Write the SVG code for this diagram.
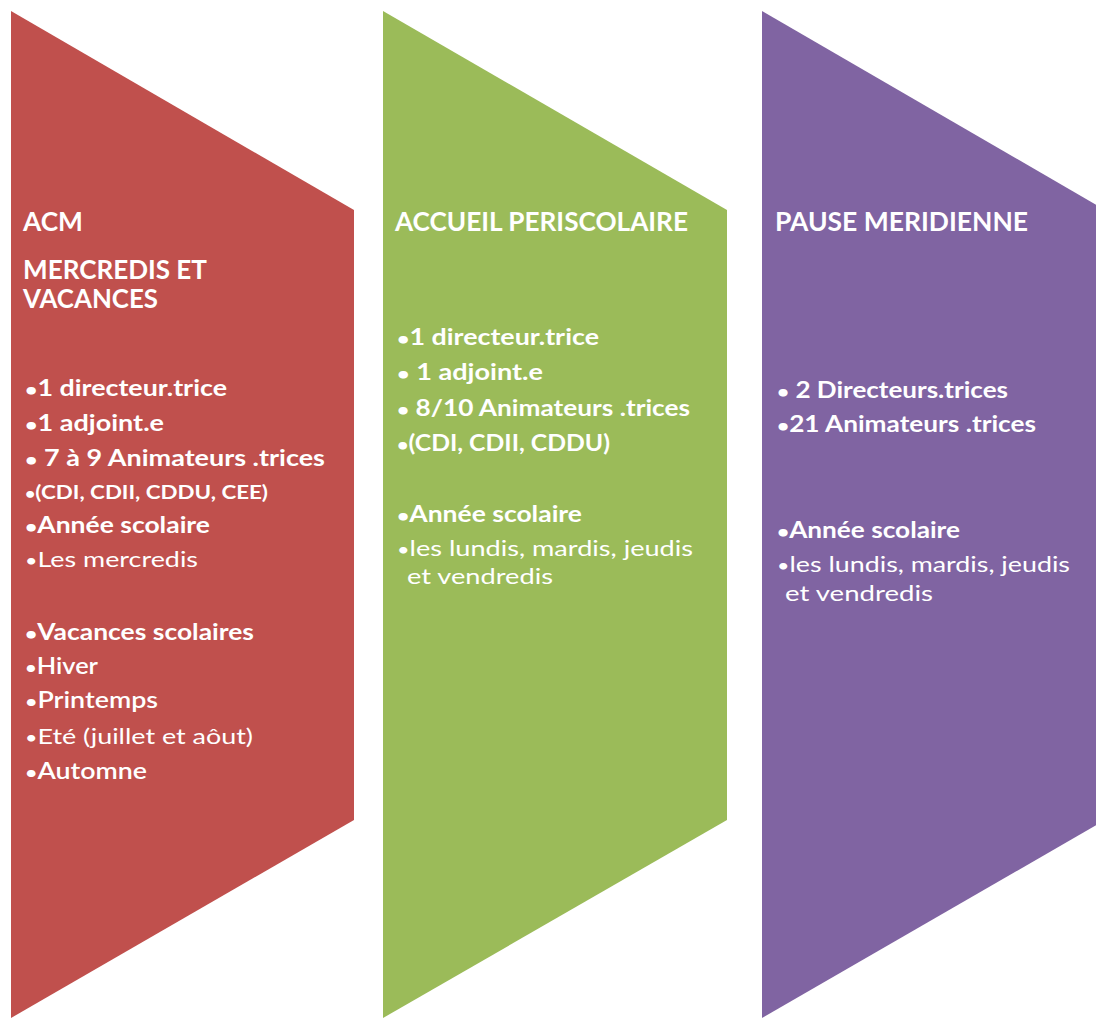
<svg xmlns="http://www.w3.org/2000/svg" width="1096" height="1018" viewBox="0 0 1096 1018">
<style>
text{font-family:Lato,"Open Sans","Liberation Sans",sans-serif;fill:#ffffff}
.h{font-size:26px;font-weight:bold}
.b{font-size:22px;font-weight:bold}
.r{font-size:22px;font-weight:normal}
.s{font-size:19px;font-weight:bold}
.m{font-size:22px;font-weight:600}
.d{font-size:0.8em}
</style>
<rect width="1096" height="1018" fill="#ffffff"/>
<g id="acm">
<polygon points="11,11 354,210 354,820 11,1018" fill="#C0504D"/>
<text class="h" x="23" y="231" textLength="60" lengthAdjust="spacingAndGlyphs">ACM</text>
<text class="h" x="23" y="279" textLength="184" lengthAdjust="spacingAndGlyphs">MERCREDIS ET</text>
<text class="h" x="23" y="308" textLength="135" lengthAdjust="spacingAndGlyphs">VACANCES</text>
<text class="b" x="25" y="396" textLength="202" lengthAdjust="spacingAndGlyphs"><tspan class="d">•</tspan>1 directeur.trice</text>
<text class="b" x="25" y="431" textLength="139" lengthAdjust="spacingAndGlyphs"><tspan class="d">•</tspan>1 adjoint.e</text>
<text class="b" x="25" y="466" textLength="300" lengthAdjust="spacingAndGlyphs"><tspan class="d">•</tspan> 7 à 9  Animateurs .trices</text>
<text class="s" x="25" y="499" textLength="243" lengthAdjust="spacingAndGlyphs"><tspan class="d">•</tspan>(CDI, CDII, CDDU, CEE)</text>
<text class="b" x="25" y="533" textLength="185" lengthAdjust="spacingAndGlyphs"><tspan class="d">•</tspan>Année scolaire</text>
<text class="r" x="25" y="567" textLength="173" lengthAdjust="spacingAndGlyphs"><tspan class="d">•</tspan>Les mercredis</text>
<text class="b" x="25" y="640" textLength="229" lengthAdjust="spacingAndGlyphs"><tspan class="d">•</tspan>Vacances scolaires</text>
<text class="m" x="25" y="674" textLength="73" lengthAdjust="spacingAndGlyphs"><tspan class="d">•</tspan>Hiver</text>
<text class="m" x="25" y="708" textLength="133" lengthAdjust="spacingAndGlyphs"><tspan class="d">•</tspan>Printemps</text>
<text class="r" x="25" y="744" textLength="228" lengthAdjust="spacingAndGlyphs"><tspan class="d">•</tspan>Eté (juillet et aôut)</text>
<text class="m" x="25" y="779" textLength="122" lengthAdjust="spacingAndGlyphs"><tspan class="d">•</tspan>Automne</text>
</g>
<g id="periscolaire">
<polygon points="383,11 727,210 727,820 383,1018" fill="#9BBB59"/>
<text class="h" x="395" y="231" textLength="293" lengthAdjust="spacingAndGlyphs">ACCUEIL PERISCOLAIRE</text>
<text class="b" x="397" y="345" textLength="202" lengthAdjust="spacingAndGlyphs"><tspan class="d">•</tspan>1 directeur.trice</text>
<text class="b" x="397" y="380" textLength="146" lengthAdjust="spacingAndGlyphs"><tspan class="d">•</tspan> 1 adjoint.e</text>
<text class="b" x="397" y="416" textLength="293" lengthAdjust="spacingAndGlyphs"><tspan class="d">•</tspan> 8/10  Animateurs .trices</text>
<text class="b" x="397" y="451" textLength="213" lengthAdjust="spacingAndGlyphs"><tspan class="d">•</tspan>(CDI, CDII, CDDU)</text>
<text class="b" x="397" y="522" textLength="185" lengthAdjust="spacingAndGlyphs"><tspan class="d">•</tspan>Année scolaire</text>
<text class="r" x="397" y="556" textLength="296" lengthAdjust="spacingAndGlyphs"><tspan class="d">•</tspan>les lundis, mardis, jeudis</text>
<text class="r" x="407" y="584" textLength="146" lengthAdjust="spacingAndGlyphs">et vendredis</text>
</g>
<g id="pause">
<polygon points="762,11 1105,210 1105,820 762,1018" fill="#8064A2"/>
<text class="h" x="775" y="231" textLength="253" lengthAdjust="spacingAndGlyphs">PAUSE MERIDIENNE</text>
<text class="b" x="777" y="398" textLength="231" lengthAdjust="spacingAndGlyphs"><tspan class="d">•</tspan> 2 Directeurs.trices</text>
<text class="b" x="777" y="432" textLength="259" lengthAdjust="spacingAndGlyphs"><tspan class="d">•</tspan>21 Animateurs .trices</text>
<text class="b" x="777" y="538" textLength="183" lengthAdjust="spacingAndGlyphs"><tspan class="d">•</tspan>Année scolaire</text>
<text class="r" x="777" y="572" textLength="293" lengthAdjust="spacingAndGlyphs"><tspan class="d">•</tspan>les lundis, mardis, jeudis</text>
<text class="r" x="785" y="601" textLength="148" lengthAdjust="spacingAndGlyphs">et vendredis</text>
</g>
</svg>
